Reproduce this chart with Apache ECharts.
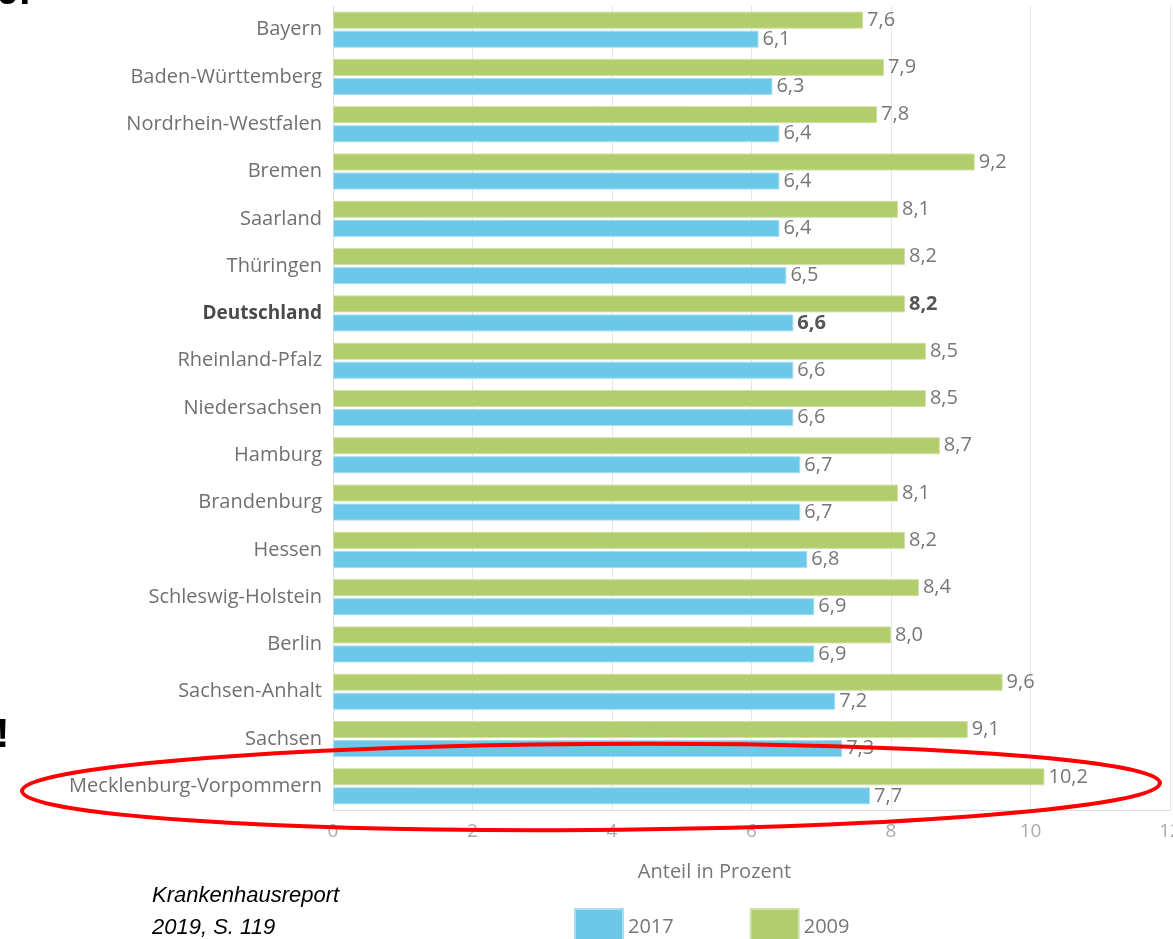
<!DOCTYPE html>
<html>
<head>
<meta charset="utf-8">
<title>Anteil in Prozent nach Bundesland</title>
<script src="https://cdn.jsdelivr.net/npm/echarts@6/dist/echarts.min.js"></script>
<style>
  html, body { margin: 0; padding: 0; background: #ffffff; }
  #chart { width: 1173px; height: 939px; }
</style>
</head>
<body>
<div id="chart"></div>
<script>
// Bundesländer, top to bottom
const categories = [
  'Bayern', 'Baden-Württemberg', 'Nordrhein-Westfalen', 'Bremen', 'Saarland',
  'Thüringen', 'Deutschland', 'Rheinland-Pfalz', 'Niedersachsen', 'Hamburg',
  'Brandenburg', 'Hessen', 'Schleswig-Holstein', 'Berlin', 'Sachsen-Anhalt',
  'Sachsen', 'Mecklenburg-Vorpommern'
];
const values2009 = [7.6, 7.9, 7.8, 9.2, 8.1, 8.2, 8.2, 8.5, 8.5, 8.7, 8.1, 8.2, 8.4, 8.0, 9.6, 9.1, 10.2];
const values2017 = [6.1, 6.3, 6.4, 6.4, 6.4, 6.5, 6.6, 6.6, 6.6, 6.7, 6.7, 6.8, 6.9, 6.9, 7.2, 7.3, 7.7];
const xTicks = [0, 2, 4, 6, 8, 10, 12];
const highlight = 'Deutschland';

const FONT = '"Open Sans", sans-serif';
const GREEN = '#b2cd6b';
const BLUE = '#6cc8e8';

const fmt = v => v.toFixed(1).replace('.', ',');

function seriesData(values) {
  return values.map((v, i) => {
    const item = { value: v };
    if (categories[i] === highlight) {
      item.label = { fontWeight: 'bold', color: '#555' };
    }
    return item;
  });
}

const chart = echarts.init(document.getElementById('chart'));

chart.setOption({
  animation: false,
  grid: { left: 333, right: 3, top: 6, bottom: 129, containLabel: false, outerBoundsMode: 'none' },
  legend: {
    data: ['2017', '2009'],
    left: 569,
    top: 903,
    itemWidth: 48,
    itemHeight: 36,
    itemGap: 76,
    icon: 'rect',
    textStyle: { fontFamily: FONT, fontSize: 20, color: '#777', padding: [0, 0, 0, 0] }
  },
  xAxis: {
    type: 'value',
    min: xTicks[0],
    max: xTicks[xTicks.length - 1],
    interval: xTicks[1] - xTicks[0],
    name: 'Anteil in Prozent',
    nameLocation: 'middle',
    nameGap: 52,
    nameTextStyle: { fontFamily: FONT, fontSize: 20, color: '#777', padding: [0, 74, 0, 0] },
    axisLine: { show: true, lineStyle: { color: '#dcdcdc', width: 1 } },
    axisTick: { show: false },
    axisLabel: { fontFamily: FONT, fontSize: 19, color: '#aaa', margin: 12 },
    splitLine: { show: true, lineStyle: { color: '#e6e6e6', width: 1 } }
  },
  yAxis: {
    type: 'category',
    data: categories,
    inverse: true,
    axisLine: { show: true, lineStyle: { color: '#dcdcdc', width: 1 } },
    axisTick: { show: false },
    axisLabel: {
      fontFamily: FONT,
      fontSize: 20,
      color: '#707070',
      margin: 11,
      formatter: v => v === highlight ? '{b|' + v + '}' : v,
      rich: { b: { fontFamily: FONT, fontSize: 19, fontWeight: 'bold', color: '#4a4a4a' } }
    }
  },
  series: [
    {
      name: '2009',
      type: 'bar',
      data: seriesData(values2009),
      barWidth: 17,
      barGap: '12%',
      itemStyle: { color: GREEN, borderColor: '#cfe0a4', borderWidth: 1 },
      label: {
        show: true,
        position: 'right',
        distance: 4,
        formatter: p => fmt(p.value),
        fontFamily: FONT,
        fontSize: 20,
        color: '#777'
      }
    },
    {
      name: '2017',
      type: 'bar',
      data: seriesData(values2017),
      barWidth: 17,
      barGap: '12%',
      itemStyle: { color: BLUE, borderColor: '#a8def2', borderWidth: 1 },
      label: {
        show: true,
        position: 'right',
        distance: 4,
        formatter: p => fmt(p.value),
        fontFamily: FONT,
        fontSize: 20,
        color: '#777'
      }
    }
  ],
  graphic: [
    {
      type: 'ellipse',
      shape: { cx: 0, cy: 0, rx: 569, ry: 43 },
      x: 591,
      y: 787,
      rotation: 0.007,
      style: { fill: 'none', stroke: '#ff0000', lineWidth: 4 },
      z: 100
    },
    {
      type: 'text',
      left: 152,
      top: 880,
      style: {
        text: 'Krankenhausreport\n2019, S. 119',
        font: 'italic 22px "Liberation Sans", Arial, sans-serif',
        fill: '#000',
        lineHeight: 32
      },
      z: 100
    },
    {
      type: 'text',
      x: -3,
      y: -27,
      style: {
        text: '9.',
        font: 'bold 40px "Liberation Sans", Arial, sans-serif',
        fill: '#000',
        textVerticalAlign: 'top'
      },
      z: 100
    },
    {
      type: 'text',
      x: -4,
      y: 756,
      style: {
        text: '!',
        font: 'bold 40px "Liberation Sans", Arial, sans-serif',
        fill: '#000',
        textVerticalAlign: 'bottom'
      },
      z: 100
    }
  ]
});
</script>
</body>
</html>
